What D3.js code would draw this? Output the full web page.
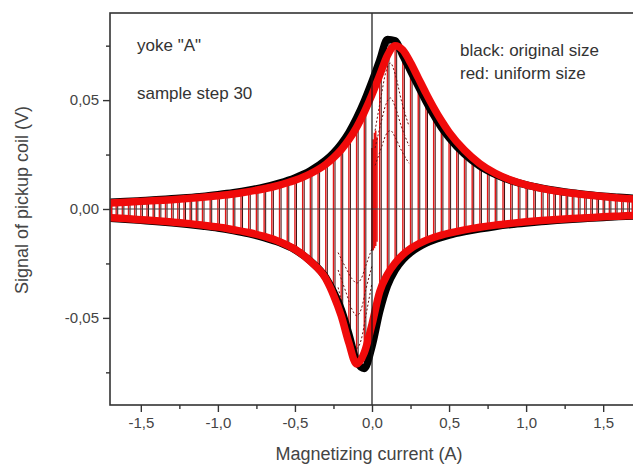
<!DOCTYPE html>
<html><head><meta charset="utf-8">
<script src="https://cdn.jsdelivr.net/npm/d3@7"></script>
<style>body{margin:0;background:#fff}svg{display:block}text{font-family:"Liberation Sans",Arial,sans-serif}</style>
</head><body><svg id="c" width="633" height="467"></svg>
<script>
// ---- data ----
const currents = [-1.7,-1.6,-1.5,-1.4,-1.3,-1.2,-1.1,-1.0,-0.9,-0.8,-0.7,-0.6,-0.5,-0.4,-0.3,-0.25,-0.2,-0.15,-0.1,-0.05,0,0.05,0.1,0.15,0.2,0.25,0.3,0.35,0.4,0.45,0.5,0.6,0.7,0.8,0.9,1.0,1.1,1.2,1.3,1.4,1.5,1.6,1.7];
const redUpper = [0.0028,0.0031,0.0035,0.0039,0.0043,0.0048,0.0054,0.0061,0.0069,0.0080,0.0093,0.0110,0.0132,0.0162,0.0205,0.0235,0.0272,0.0318,0.0375,0.0445,0.0525,0.0615,0.0705,0.0750,0.0730,0.0672,0.0602,0.0532,0.0466,0.0406,0.0353,0.0270,0.0208,0.0164,0.0133,0.0111,0.0095,0.0082,0.0072,0.0064,0.0057,0.0051,0.0046];
const redLower = [-0.0040,-0.0044,-0.0049,-0.0054,-0.0060,-0.0066,-0.0074,-0.0083,-0.0095,-0.0108,-0.0126,-0.0150,-0.0185,-0.0240,-0.0320,-0.0395,-0.0490,-0.0615,-0.0712,-0.0660,-0.0530,-0.0380,-0.0300,-0.0248,-0.0210,-0.0182,-0.0161,-0.0144,-0.0131,-0.0120,-0.0111,-0.0096,-0.0084,-0.0074,-0.0066,-0.0059,-0.0053,-0.0048,-0.0044,-0.0040,-0.0036,-0.0033,-0.0030];
const blackUpper = [0.0031,0.0034,0.0038,0.0042,0.0047,0.0052,0.0058,0.0066,0.0075,0.0086,0.0100,0.0119,0.0143,0.0176,0.0224,0.0257,0.0299,0.0351,0.0417,0.0495,0.0585,0.0682,0.0778,0.0772,0.0705,0.0635,0.0565,0.0495,0.0432,0.0375,0.0328,0.0252,0.0197,0.0159,0.0131,0.0111,0.0096,0.0084,0.0074,0.0066,0.0059,0.0054,0.0049];
const blackLower = [-0.0043,-0.0047,-0.0052,-0.0057,-0.0063,-0.0070,-0.0078,-0.0087,-0.0099,-0.0113,-0.0131,-0.0154,-0.0187,-0.0239,-0.0315,-0.0380,-0.0460,-0.0575,-0.0700,-0.0732,-0.0630,-0.0470,-0.0352,-0.0280,-0.0233,-0.0200,-0.0176,-0.0157,-0.0142,-0.0130,-0.0120,-0.0104,-0.0091,-0.0080,-0.0071,-0.0064,-0.0058,-0.0052,-0.0047,-0.0043,-0.0039,-0.0035,-0.0032];

const redStripes = [-1.66,-1.62,-1.58,-1.54,-1.50,-1.46,-1.42,-1.38,-1.34,-1.30,-1.26,-1.22,-1.18,-1.14,-1.10,-1.05,-1.00,-0.95,-0.90,-0.85,-0.80,-0.75,-0.70,-0.65,-0.60,-0.55,-0.50,-0.45,-0.40,-0.35,-0.30,-0.25,-0.20,-0.15,-0.10,-0.05,0.05,0.10,0.15,0.20,0.25,0.30,0.35,0.40,0.45,0.50,0.55,0.60,0.65,0.70,0.75,0.80,0.85,0.90,0.95,1.00,1.05,1.10,1.14,1.18,1.22,1.26,1.30,1.34,1.38,1.42,1.46,1.50,1.54,1.58,1.62,1.66];
const blackStripes = [-1.65,-1.61,-1.57,-1.53,-1.49,-1.45,-1.41,-1.37,-1.33,-1.29,-1.25,-1.21,-1.17,-1.13,-1.09,-1.04,-0.99,-0.94,-0.89,-0.84,-0.79,-0.74,-0.69,-0.64,-0.59,-0.54,-0.49,-0.44,-0.39,-0.34,-0.29,-0.24,-0.19,-0.14,-0.09,-0.04,0.06,0.11,0.16,0.21,0.26,0.31,0.36,0.41,0.46,0.51,0.56,0.61,0.66,0.71,0.76,0.81,0.86,0.91,0.96,1.01,1.06,1.11,1.15,1.19,1.23,1.27,1.31,1.35,1.39,1.43,1.47,1.51,1.55,1.59,1.63,1.67];
// short dense red strokes near zero current
const centerStripeI = [0.000,0.008,0.016,0.024,0.032];
const centerStripeTop = [0.028,0.032,0.035,0.036,0.033];
const centerStripeBottom = [-0.019,-0.019,-0.018,-0.017,-0.015];

const innerUpperI = [0.02,0.06,0.09,0.12,0.15,0.19,0.24];
const innerUpper = [
  [0.036,0.052,0.063,0.067,0.062,0.050,0.038],
  [0.028,0.040,0.048,0.051,0.047,0.038,0.029],
  [0.020,0.028,0.034,0.036,0.033,0.027,0.021]];
const innerLowerI = [-0.22,-0.17,-0.13,-0.10,-0.07,-0.04,0.00];
const innerLower = [
  [-0.036,-0.050,-0.060,-0.064,-0.060,-0.049,-0.034],
  [-0.028,-0.038,-0.046,-0.049,-0.046,-0.037,-0.026],
  [-0.020,-0.027,-0.032,-0.034,-0.032,-0.026,-0.018]];

const xTicks = [-1.5,-1.0,-0.5,0.0,0.5,1.0,1.5];
const xTickLabels = ["-1,5","-1,0","-0,5","0,0","0,5","1,0","1,5"];
const xMinor = [-1.25,-0.75,-0.25,0.25,0.75,1.25];
const yTicks = [-0.05,0.0,0.05];
const yTickLabels = ["-0,05","0,00","0,05"];
const yMinor = [-0.075,-0.025,0.025,0.075];
const notes = [["yoke \"A\"",137,51],["sample step 30",137,99],["black: original size",460,56],["red: uniform size",460,79]];

// ---- drawing ----
const svg = d3.select("#c");
const L=110,R=634,T=13,B=405;
const x = d3.scaleLinear().domain([-1.7,1.7]).range([L,R]);
const y = d3.scaleLinear().domain([-0.09,0.09]).range([B,T]);

svg.append("clipPath").attr("id","pc").append("rect").attr("x",L).attr("y",T).attr("width",R-L).attr("height",B-T);
const g = svg.append("g").attr("clip-path","url(#pc)");

const rU = d3.scaleLinear().domain(currents).range(redUpper);
const rL = d3.scaleLinear().domain(currents).range(redLower);
const bU = d3.scaleLinear().domain(currents).range(blackUpper);
const bL = d3.scaleLinear().domain(currents).range(blackLower);

g.selectAll("line.bs").data(blackStripes).join("line").attr("class","bs")
  .attr("x1",d=>x(d)).attr("x2",d=>x(d)).attr("y1",d=>y(bU(d))).attr("y2",d=>y(bL(d)))
  .attr("stroke","#3a0c0c").attr("stroke-width",1);
g.selectAll("line.rs").data(redStripes).join("line").attr("class","rs")
  .attr("x1",d=>x(d)).attr("x2",d=>x(d)).attr("y1",d=>y(rU(d))).attr("y2",d=>y(rL(d)))
  .attr("stroke","#e21616").attr("stroke-width",1.4);
g.selectAll("line.cs").data(centerStripeI).join("line").attr("class","cs")
  .attr("x1",d=>x(d)).attr("x2",d=>x(d)).attr("y1",(d,i)=>y(centerStripeTop[i])).attr("y2",(d,i)=>y(centerStripeBottom[i]))
  .attr("stroke","#e81010").attr("stroke-width",1.6);

const ln = d3.line().x(d=>x(d[0])).y(d=>y(d[1])).curve(d3.curveMonotoneX);
innerUpper.forEach(arr=>{
  g.append("path").attr("d",ln(innerUpperI.map((c,i)=>[c,arr[i]]))).attr("fill","none")
   .attr("stroke","#6a1010").attr("stroke-width",1).attr("stroke-dasharray","2,2");
});
innerLower.forEach(arr=>{
  g.append("path").attr("d",ln(innerLowerI.map((c,i)=>[c,arr[i]]))).attr("fill","none")
   .attr("stroke","#6a1010").attr("stroke-width",1).attr("stroke-dasharray","2,2");
});

// zero line (horizontal)
g.append("line").attr("x1",L).attr("x2",R).attr("y1",y(0)).attr("y2",y(0)).attr("stroke","#4a4040").attr("stroke-width",1.2);

function envelope(up,lo,color,w){
  const u = currents.map((c,i)=>[c,up[i]]);
  const l = currents.map((c,i)=>[c,lo[i]]);
  g.append("path").attr("d",ln(u)).attr("fill","none").attr("stroke",color).attr("stroke-width",w).attr("stroke-linejoin","round");
  g.append("path").attr("d",ln(l)).attr("fill","none").attr("stroke",color).attr("stroke-width",w).attr("stroke-linejoin","round");
  [0,currents.length-1].forEach(i=>{
    g.append("line").attr("x1",x(currents[i])).attr("x2",x(currents[i])).attr("y1",y(up[i])).attr("y2",y(lo[i]))
     .attr("stroke",color).attr("stroke-width",w*0.6);
  });
}
envelope(blackUpper,blackLower,"#000",7.5);
envelope(redUpper,redLower,"#f00a0a",7.5);

g.append("line").attr("x1",x(0)).attr("x2",x(0)).attr("y1",T).attr("y2",B).attr("stroke","#111").attr("stroke-width",1.2);

// frame
svg.append("rect").attr("x",L).attr("y",T).attr("width",R-L).attr("height",B-T).attr("fill","none").attr("stroke","#333").attr("stroke-width",1.6);

// axes
const xa = svg.append("g").attr("transform",`translate(0,${B})`)
  .call(d3.axisBottom(x).tickValues(xTicks).tickSize(7).tickSizeOuter(0).tickPadding(5).tickFormat((d,i)=>xTickLabels[i]));
const xm = svg.append("g").attr("transform",`translate(0,${B})`)
  .call(d3.axisBottom(x).tickValues(xMinor).tickSize(4).tickSizeOuter(0).tickFormat(""));
const ya = svg.append("g").attr("transform",`translate(${L},0)`)
  .call(d3.axisLeft(y).tickValues(yTicks).tickSize(7).tickSizeOuter(0).tickPadding(4).tickFormat((d,i)=>yTickLabels[i]));
const ym = svg.append("g").attr("transform",`translate(${L},0)`)
  .call(d3.axisLeft(y).tickValues(yMinor).tickSize(4).tickSizeOuter(0).tickFormat(""));
[xa,xm,ya,ym].forEach(a=>{
  a.select(".domain").remove();
  a.selectAll("line").attr("stroke","#333").attr("stroke-width",1.4);
  a.selectAll("text").attr("fill","#444").style("font-size","15px").style("font-family","'Liberation Sans',Arial,sans-serif");
});

svg.append("text").attr("x",(L+R)/2-3).attr("y",460).attr("text-anchor","middle").attr("fill","#444")
  .style("font-size","18px").text("Magnetizing current (A)");
svg.append("text").attr("transform","translate(28,200) rotate(-90)").attr("text-anchor","middle").attr("fill","#444")
  .style("font-size","18px").text("Signal of pickup coil (V)");

svg.selectAll("text.note").data(notes).join("text").attr("class","note")
  .attr("x",d=>d[1]).attr("y",d=>d[2]).attr("fill","#333").style("font-size","17px").text(d=>d[0]);
</script>
</body></html>
